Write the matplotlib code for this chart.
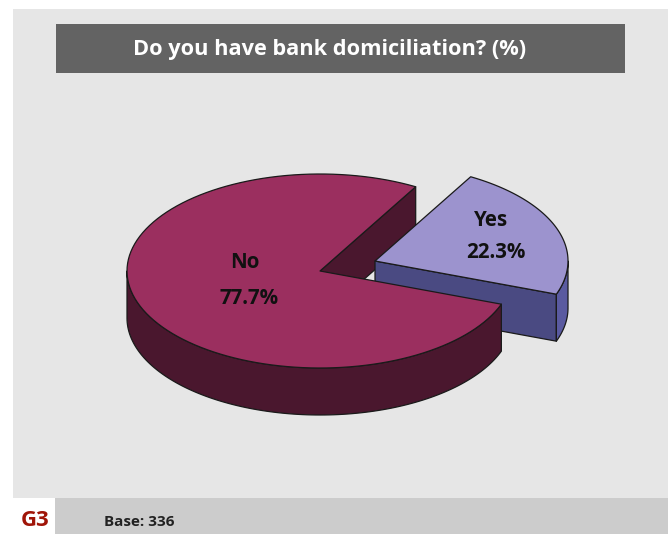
import numpy as np
import matplotlib
matplotlib.use("Agg")
import matplotlib.pyplot as plt
from matplotlib.patches import Polygon, Rectangle

labels = ["No", "Yes"]
shares = [77.7, 22.3]
title = "Do you have bank domiciliation? (%)"
base_note = "Base: 336"
brand = "G3"

W, H = 668, 534
RX, RY = 193, 97
DEPTH = 47
CENTER_NO = (320, 271)
CENTER_YES = (375, 261)
YES_START = -20  # degrees, measured on the flattened circle

NO_TOP, NO_DARK = "#9b2f5f", "#4a172e"
YES_TOP, YES_FRONT, YES_SIDE = "#9c93ce", "#4a4a82", "#5a5aa0"
OUTLINE = "#1a1a1a"


def rim(center, a0, a1, drop=0):
    t = np.radians(np.linspace(a0, a1, 120))
    return np.column_stack(
        [center[0] + RX * np.cos(t), center[1] - RY * np.sin(t) + drop]
    )


def shape(ax, pts, color):
    ax.add_patch(Polygon(pts, closed=True, facecolor=color, edgecolor=OUTLINE,
                         linewidth=0.9, joinstyle="round"))


def outer_wall(ax, center, a0, a1, color):
    top = rim(center, a0, a1)
    shape(ax, np.vstack([top, rim(center, a0, a1, DEPTH)[::-1]]), color)


def cut_wall(ax, center, angle, color):
    edge = rim(center, angle, angle)[0]
    shape(ax, [center, edge, (edge[0], edge[1] + DEPTH),
               (center[0], center[1] + DEPTH)], color)


fig = plt.figure(figsize=(W / 100, H / 100), dpi=100, facecolor="white")
ax = fig.add_axes([0, 0, 1, 1])
ax.set_xlim(0, W)
ax.set_ylim(H, 0)
ax.axis("off")

# page furniture
ax.add_patch(Rectangle((13, 9), W - 13, 489, facecolor="#e6e6e6", edgecolor="none"))
ax.add_patch(Rectangle((55, 498), W - 55, 36, facecolor="#cccccc", edgecolor="none"))
ax.add_patch(Rectangle((56, 24), 569, 49, facecolor="#636363", edgecolor="none"))
ax.text(330, 49, title, color="white", fontsize=15.7, fontweight="bold",
        family="Open Sans", ha="center", va="center")
ax.text(35, 521, brand, color="#a01508", fontsize=16, fontweight="bold",
        family="Open Sans", ha="center", va="center")
ax.text(104, 522, base_note, color="#222222", fontsize=11, fontweight="bold",
        family="Open Sans", ha="left", va="center")

# sweep of each slice comes from its share
yes_sweep = shares[1] / sum(shares) * 360
yes_end = YES_START + yes_sweep
no_start = yes_end
no_end = YES_START + 360

# the inner wall of the large slice sits behind the detached one,
# while its top face and front rim sit in front
cut_wall(ax, CENTER_NO, no_start, NO_DARK)

yes_top = np.vstack([[CENTER_YES], rim(CENTER_YES, YES_START, yes_end)])
yes_low = rim(CENTER_YES, YES_START, YES_START)[0]
shape(ax, [CENTER_YES, yes_low, (yes_low[0], yes_low[1] + DEPTH),
           (CENTER_YES[0], CENTER_YES[1] + DEPTH)], YES_FRONT)
outer_wall(ax, CENTER_YES, YES_START, 0, YES_SIDE)
shape(ax, yes_top, YES_TOP)

outer_wall(ax, CENTER_NO, 180, no_end, NO_DARK)
shape(ax, np.vstack([[CENTER_NO], rim(CENTER_NO, no_start, no_end)]), NO_TOP)

label_font = dict(color="#111111", fontsize=14.8, fontweight="bold",
                  family="Open Sans", ha="center", va="center")
ax.text(245, 263, labels[0], **label_font)
ax.text(249, 298, f"{shares[0]}%", **label_font)
ax.text(491, 220, labels[1], **label_font)
ax.text(496, 253, f"{shares[1]}%", **label_font)

fig.savefig("out.png", dpi=100, facecolor="white")
